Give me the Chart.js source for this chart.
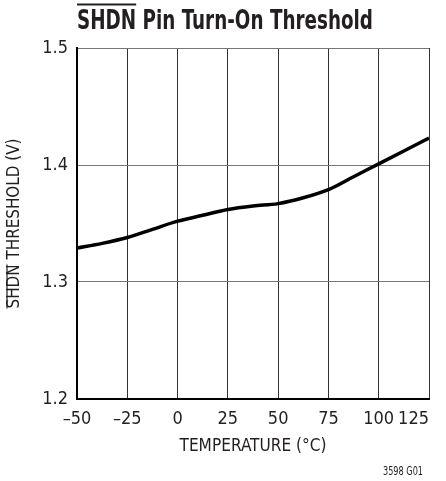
<!DOCTYPE html>
<html>
<head>
<meta charset="utf-8">
<script src="https://cdn.jsdelivr.net/npm/chart.js@4.4.1/dist/chart.umd.min.js"></script>
<style>
  html, body { margin: 0; padding: 0; background: #fff; }
  #chart { display: block; }
</style>
</head>
<body>
<canvas id="chart" width="446" height="481"></canvas>
<script>
// temperature (°C) and SHDN turn-on threshold (V)
const temps = [-50, -37.5, -25, -12.5, 0, 12.5, 25, 37.5, 50, 62.5, 75, 87.5, 100, 112.5, 125];
const thresholds = [1.329, 1.333, 1.338, 1.345, 1.352, 1.357, 1.362, 1.365, 1.367, 1.372, 1.379, 1.390, 1.401, 1.412, 1.423];

const xTicks = [-50, -25, 0, 25, 50, 75, 100, 125];
const yTicks = [1.2, 1.3, 1.4, 1.5];

const titleText = 'SHDN Pin Turn-On Threshold';
const yTitleText = 'SHDN THRESHOLD (V)';
const xTitleText = 'TEMPERATURE (°C)';
const footText = '3598 G01';

const FONT = "'Liberation Sans Narrow', 'DejaVu Sans Condensed', Roboto, sans-serif";
const INK = '#231f20';

// draw text squeezed to a given width (the original uses a condensed face)
function fitText(ctx, text, x, y, width) {
  const w = ctx.measureText(text).width;
  const k = Math.min(1, width / w);
  ctx.save();
  ctx.translate(x, y);
  ctx.scale(k, 1);
  ctx.fillText(text, 0, 0);
  ctx.restore();
  return k;
}

// titles with the overbar on SHDN
const labelsPlugin = {
  id: 'labels',
  afterDraw(chart) {
    const ctx = chart.ctx;
    const area = chart.chartArea;
    ctx.save();
    ctx.fillStyle = INK;
    ctx.strokeStyle = INK;

    // main title
    ctx.font = 'bold 26px ' + FONT;
    ctx.textAlign = 'left';
    ctx.textBaseline = 'alphabetic';
    const k = fitText(ctx, titleText, 77, 28.5, 296);
    const sw = ctx.measureText('SHDN').width * k;
    ctx.lineWidth = 1.8;
    ctx.beginPath();
    ctx.moveTo(77, 4.5);
    ctx.lineTo(77 + sw, 4.5);
    ctx.stroke();

    // y axis title
    ctx.font = '18px ' + FONT;
    ctx.save();
    ctx.translate(14.5, (area.top + area.bottom) / 2);
    ctx.rotate(-Math.PI / 2);
    ctx.textAlign = 'center';
    ctx.textBaseline = 'middle';
    const ky = fitText(ctx, yTitleText, 0, 0, 170);
    const yw = ctx.measureText(yTitleText).width * ky;
    const ysw = ctx.measureText('SHDN').width * ky;
    ctx.lineWidth = 1.2;
    ctx.beginPath();
    ctx.moveTo(-yw / 2, -7.5);
    ctx.lineTo(-yw / 2 + ysw, -7.5);
    ctx.stroke();
    ctx.restore();

    // x axis title
    ctx.textAlign = 'center';
    ctx.textBaseline = 'middle';
    fitText(ctx, xTitleText, (area.left + area.right) / 2, 446, 147);

    // figure number
    ctx.font = '12px ' + FONT;
    ctx.textAlign = 'right';
    fitText(ctx, footText, 423, 472, 40);
    ctx.restore();
  }
};

new Chart(document.getElementById('chart'), {
  type: 'line',
  data: {
    datasets: [{
      data: temps.map((t, i) => ({ x: t, y: thresholds[i] })),
      borderColor: '#000',
      borderWidth: 3.5,
      pointRadius: 0,
      cubicInterpolationMode: 'monotone',
      fill: false
    }]
  },
  options: {
    responsive: false,
    animation: false,
    devicePixelRatio: 1,
    layout: { padding: { left: 0, right: 17, top: 48, bottom: 0 } },
    plugins: {
      legend: { display: false },
      tooltip: { enabled: false },
      title: { display: false }
    },
    scales: {
      x: {
        type: 'linear',
        min: -50,
        max: 125,
        afterBuildTicks(scale) { scale.ticks = xTicks.map(v => ({ value: v })); },
        afterFit(scale) {
          scale.height = 82;
          scale.paddingLeft = 0;
          scale.paddingRight = 0;
        },
        grid: { color: '#333', lineWidth: 1, drawTicks: false },
        border: { color: '#000', width: 2 },
        ticks: {
          padding: 10,
          color: INK,
          autoSkip: false,
          minRotation: 0,
          maxRotation: 0,
          font: { family: FONT, size: 18 },
          // last label sits flush with the right border, as in the original
          callback: v => (v < 0 ? '\u2013' + Math.abs(v) : v === 125 ? '125\u2007\u2007\u2007' : String(v))
        }
      },
      y: {
        min: 1.2,
        max: 1.5,
        afterBuildTicks(scale) { scale.ticks = yTicks.map(v => ({ value: v })); },
        afterFit(scale) {
          scale.width = 77;
          scale.paddingTop = 0;
          scale.paddingBottom = 0;
        },
        grid: { color: '#777', lineWidth: 1, drawTicks: false },
        border: { color: '#000', width: 2 },
        ticks: {
          padding: 9,
          color: INK,
          font: { family: FONT, size: 18 },
          callback: v => v.toFixed(1)
        }
      }
    }
  },
  plugins: [labelsPlugin]
});
</script>
</body>
</html>
